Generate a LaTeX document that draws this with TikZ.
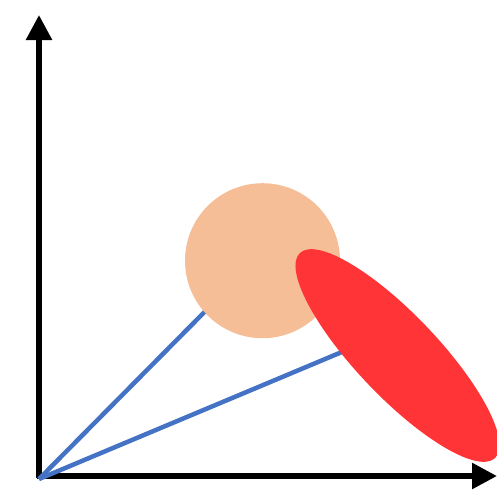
\documentclass[tikz,border=0pt]{standalone}
\usetikzlibrary{arrows.meta}
\definecolor{lineblue}{HTML}{4472C4}
\definecolor{peach}{HTML}{F5BE97}
\definecolor{redell}{HTML}{FF3436}
\begin{document}
\begin{tikzpicture}[x=1pt,y=-1pt,
  axis/.style={line width=5.5pt,-{Triangle[length=25pt,width=25pt]}},
  vec/.style={line width=4.5pt,lineblue}]
\useasboundingbox (0,0) rectangle (497,491);
\coordinate (O) at (39,479);
\draw[axis] (39,478) -- (39,15);
\draw[axis] (37,476) -- (497,476);
\draw[vec] (O) -- (255,261);
\draw[vec] (O) -- (380,336);
\fill[peach] (262.5,260.7) circle (77.5);
\fill[redell, rotate around={-46.4:(397.5,355.5)}] (397.5,355.5) ellipse (141.5 and 41);
\end{tikzpicture}
\end{document}
